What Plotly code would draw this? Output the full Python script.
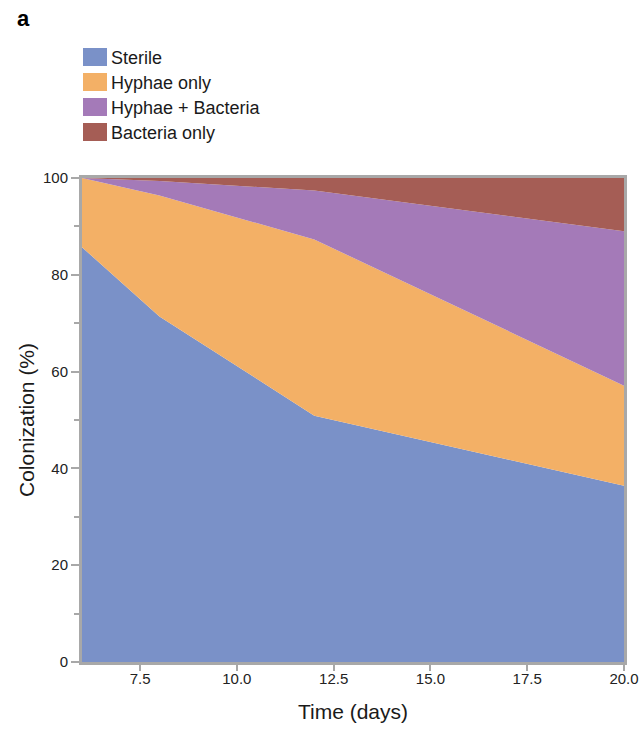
import plotly.graph_objects as go

# Sampling days and colonization share (%) for each state
days = [6, 8, 12, 20]
sterile = [85.7, 71.4, 50.9, 36.4]
hyphae_only = [14.3, 25.0, 36.4, 20.7]
hyphae_bacteria = [0.0, 3.0, 10.1, 31.9]
bacteria_only = [0.0, 0.6, 2.6, 11.0]

series_names = ["Sterile", "Hyphae only", "Hyphae + Bacteria", "Bacteria only"]
series_values = [sterile, hyphae_only, hyphae_bacteria, bacteria_only]
colors = ["#7A91C8", "#F3B066", "#A47AB8", "#A55D55"]

x_ticks = [7.5, 10.0, 12.5, 15.0, 17.5, 20.0]
y_ticks = [0, 20, 40, 60, 80, 100]

W, H = 639, 729
L, R, T, B = 82, 15, 178, 67
PW, PH = W - L - R, H - T - B


def px_x(px):
    return (px - L) / PW


def px_y(py):
    return (H - B - py) / PH


fig = go.Figure()
for name, vals, col in zip(series_names, series_values, colors):
    fig.add_trace(go.Scatter(
        x=days, y=vals, name=name, mode="lines",
        stackgroup="one", line=dict(width=0, color=col),
        fillcolor=col, showlegend=False,
    ))

# Hand-built legend with square swatches
shapes = []
annotations = []
for i, (name, col) in enumerate(zip(series_names, colors)):
    cy = 57 + 25 * i
    shapes.append(dict(
        type="rect", xref="paper", yref="paper",
        x0=px_x(83), x1=px_x(107), y0=px_y(cy + 9), y1=px_y(cy - 9),
        fillcolor=col, line=dict(width=0),
    ))
    annotations.append(dict(
        text=name, xref="paper", yref="paper",
        x=px_x(109), y=px_y(cy + 1), xanchor="left", yanchor="middle",
        showarrow=False, font=dict(size=18, color="#1a1a1a"),
    ))

annotations.append(dict(
    text="<b>a</b>", xref="paper", yref="paper",
    x=px_x(15), y=px_y(18), xanchor="left", yanchor="middle",
    showarrow=False, font=dict(size=22, color="#000000"),
))

axis_gray = "#A8A8A8"
fig.update_layout(
    width=W, height=H,
    margin=dict(l=L, r=R, t=T, b=B, pad=0, autoexpand=False),
    paper_bgcolor="white", plot_bgcolor="white",
    font=dict(family="Liberation Sans, Arial, sans-serif", color="#222222"),
    shapes=shapes, annotations=annotations,
    xaxis=dict(
        range=[6, 20], tickvals=x_ticks, tickformat=".1f",
        ticks="outside", ticklen=6, tickwidth=2, tickcolor=axis_gray,
        ticklabelstandoff=-5,
        showline=True, linewidth=3, linecolor=axis_gray, mirror=True,
        showgrid=False, zeroline=False, automargin=False,
        tickfont=dict(size=15, color="#222222"),
        title=dict(text="Time (days)", font=dict(size=21, color="#1a1a1a"), standoff=19),
    ),
    yaxis=dict(
        range=[0, 100], tickvals=y_ticks,
        ticks="outside", ticklen=8, tickwidth=2, tickcolor=axis_gray,
        minor=dict(tickvals=[10, 30, 50, 70, 90], ticks="outside", ticklen=5,
                   tickwidth=2, tickcolor=axis_gray, showgrid=False),
        showline=True, linewidth=3, linecolor=axis_gray, mirror=True,
        showgrid=False, zeroline=False, automargin=False,
        tickfont=dict(size=15, color="#222222"),
        title=dict(text="Colonization (%)", font=dict(size=21, color="#1a1a1a"), standoff=3),
    ),
)

fig.write_html("out.html")
